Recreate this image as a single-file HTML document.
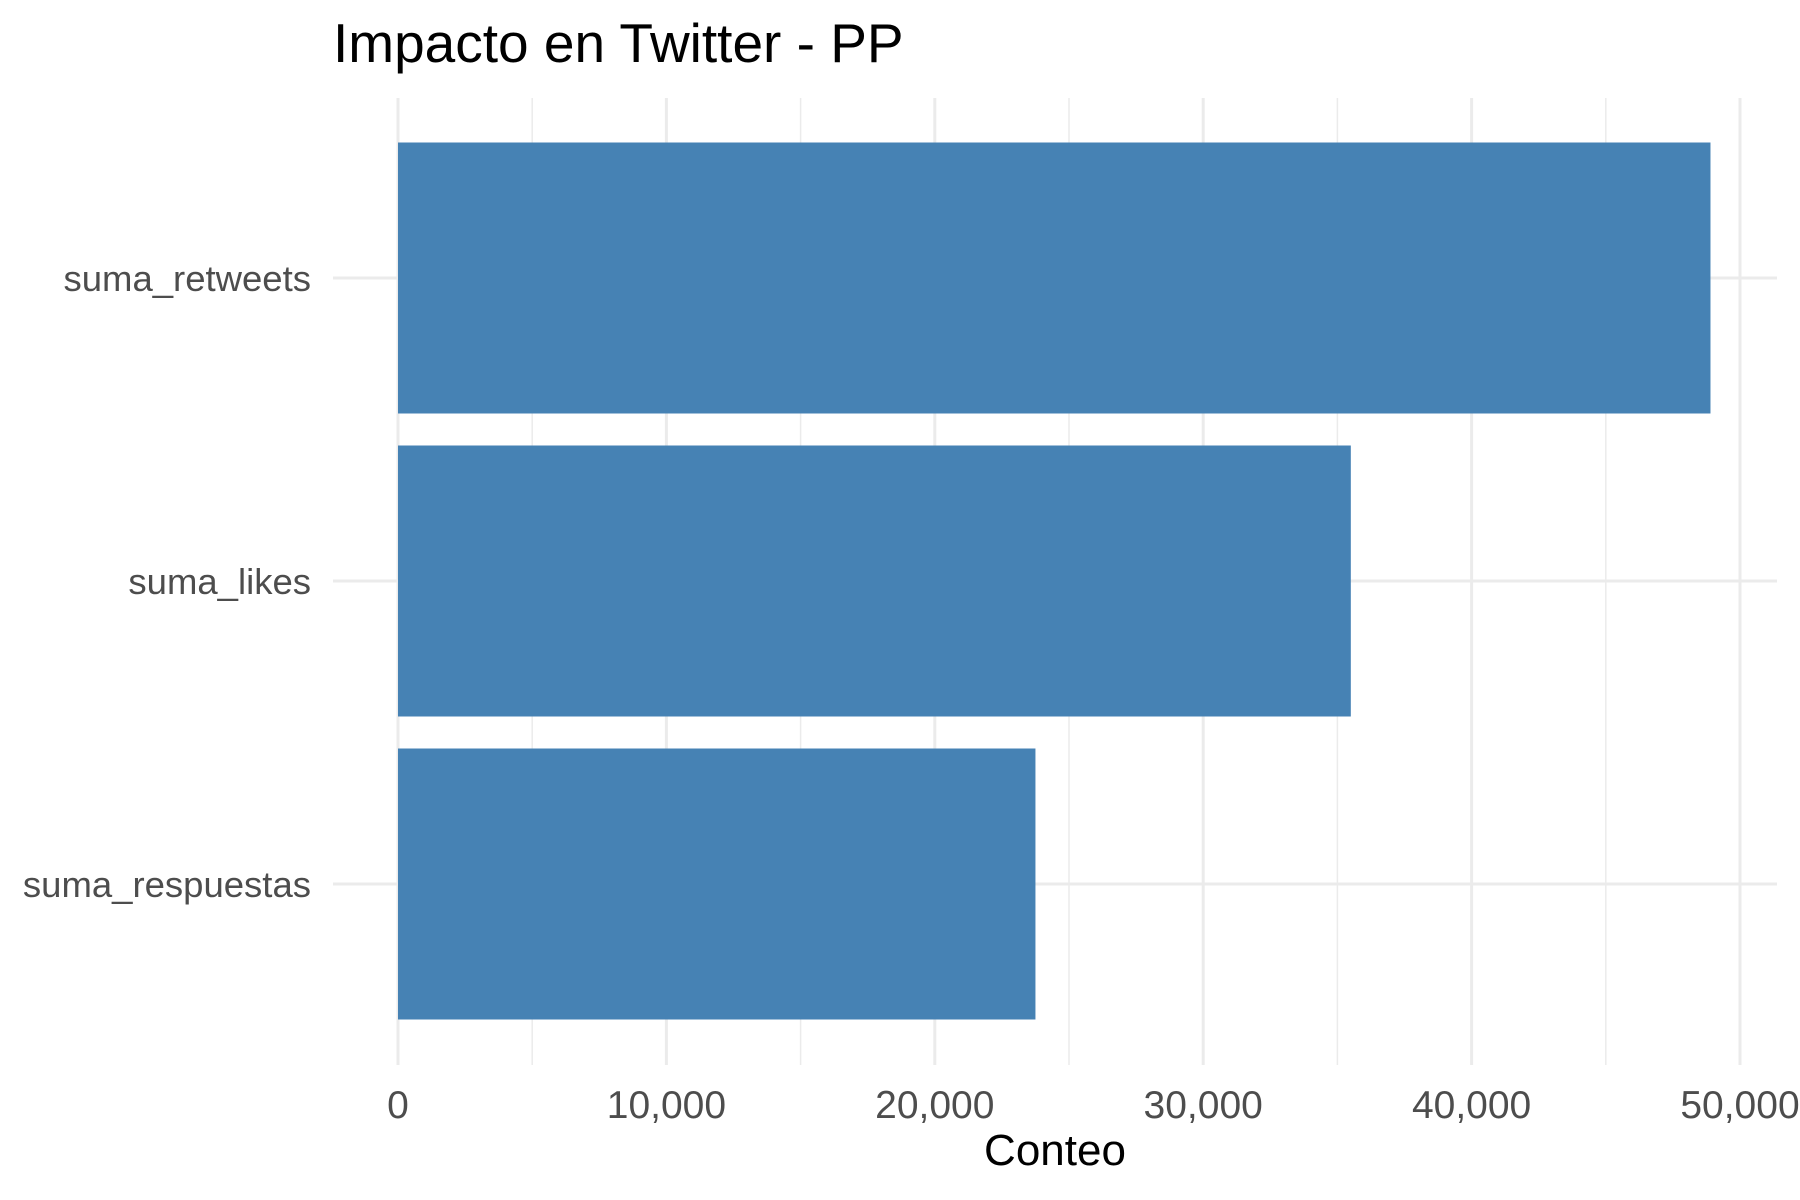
<!DOCTYPE html>
<html><head><meta charset="utf-8"><style>
html,body{margin:0;padding:0;background:#fff;}
svg{display:block;font-family:"Liberation Sans",Arial,sans-serif;}
</style></head><body>
<svg id="chart" width="1800" height="1200" viewBox="0 0 1800 1200">
<rect x="0" y="0" width="1800" height="1200" fill="#fff"/>
<text x="333" y="62" font-size="55" fill="#000">Impacto en Twitter - PP</text>
<g id="grid"></g>
<g id="bars"></g>
<g id="labels"></g>
<text x="1055" y="1165" font-size="44" fill="#000" text-anchor="middle">Conteo</text>
</svg>
<script>
const categories = ["suma_retweets", "suma_likes", "suma_respuestas"];
const values = [48900, 35500, 23750];
const xTicks = [0, 10000, 20000, 30000, 40000, 50000];
const xTickLabels = ["0", "10,000", "20,000", "30,000", "40,000", "50,000"];
const xMinor = [5000, 15000, 25000, 35000, 45000];

const NS = "http://www.w3.org/2000/svg";
const x0 = 398, pxPer = 268.4 / 10000;
const panelLeft = 333, panelRight = 1777, panelTop = 98, panelBottom = 1065;
const catTop = 278, catStep = 303, barH = 271;
function xs(v){ return x0 + v * pxPer; }
function ys(i){ return catTop + i * catStep; }
function mk(tag, attrs, parent){ const e = document.createElementNS(NS, tag); for (const k in attrs) e.setAttribute(k, attrs[k]); parent.appendChild(e); return e; }

const grid = document.getElementById("grid");
const bars = document.getElementById("bars");
const labels = document.getElementById("labels");

xMinor.forEach(v => {
  const l = mk("line", {x1: xs(v), x2: xs(v), y1: panelTop, y2: panelBottom, stroke: "#ebebeb", "stroke-width": 1.5}, grid);
  
  
});
xTicks.forEach((v, i) => {
  const l = mk("line", {x1: xs(v), x2: xs(v), y1: panelTop, y2: panelBottom, stroke: "#ebebeb", "stroke-width": 3}, grid);
  
  
  const t = mk("text", {x: xs(v), y: 1118, "font-size": 39, fill: "#4d4d4d", "text-anchor": "middle"}, labels);
  t.textContent = xTickLabels[i];
  
  
});
categories.forEach((c, i) => {
  const l = mk("line", {x1: panelLeft, x2: panelRight, y1: ys(i), y2: ys(i), stroke: "#ebebeb", "stroke-width": 3}, grid);
  
  
  const r = mk("rect", {x: xs(0), y: ys(i) - barH / 2, width: xs(values[i]) - xs(0), height: barH, fill: "#4682b4"}, bars);
  
  
  const t = mk("text", {x: 311, y: ys(i) + 13, "font-size": 36.5, fill: "#4d4d4d", "text-anchor": "end"}, labels);
  t.textContent = c;
  
  
});
</script>
</body></html>
